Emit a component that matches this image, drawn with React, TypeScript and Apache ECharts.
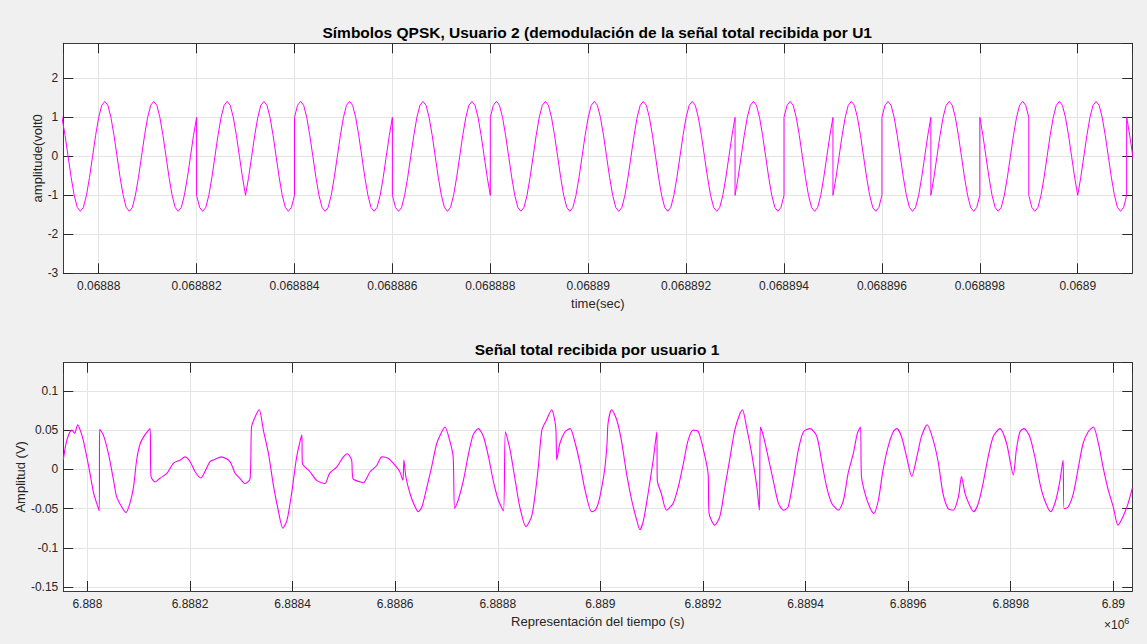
import React, { useEffect, useRef } from 'react';
import * as echarts from 'echarts';

// ---------- Top subplot: demodulated QPSK symbols (time in microseconds) ----------
const topXMinUs = 68879.277;
const topXMaxUs = 68901.115;
const topSymbolStartUs = 68879; // first symbol boundary (one symbol per microsecond)
// phase of each symbol, named by where its peak sits inside the symbol (1/8, 3/8, 5/8, 7/8)
const topSymbolPhases = [1, 1, 1, 5, 3, 1, 1, 5, 5, 1, 1, 1, 1, 1, 3, 1, 3, 1, 3, 7, 5, 3, 7];
// samples of one symbol every 1/16 microsecond (17 points incl. end)
const phaseShape1 = [1, 1.31, 1.41, 1.31, 1, 0.54, 0, -0.54, -1, -1.31, -1.41, -1.31, -1, -0.54, 0, 0.54, 1];
const phaseShape3 = [-1, -0.54, 0, 0.54, 1, 1.31, 1.41, 1.31, 1, 0.54, 0, -0.54, -1, -1.31, -1.41, -1.31, -1];
const phaseShape5 = [-1, -1.31, -1.41, -1.31, -1, -0.54, 0, 0.54, 1, 1.31, 1.41, 1.31, 1, 0.54, 0, -0.54, -1];
const phaseShape7 = [1, 0.54, 0, -0.54, -1, -1.31, -1.41, -1.31, -1, -0.54, 0, 0.54, 1, 1.31, 1.41, 1.31, 1];
const topYMin = -3;
const topYMax = 2.9;

// ---------- Bottom subplot: total received signal ----------
const bottomTimeBase = 6888000;
const bottomXMin = 6887953;
const bottomXMax = 6890037;
const bottomYMin = -0.155;
const bottomYMax = 0.136;
const bottomTimeOffset = [
  -47, -42, -36, -30, -25, -19, -14, -8, 0, 5, 12, 18, 23, 24, 31, 41, 51, 57, 67, 75,
  83, 90, 96, 103, 112, 122, 124, 132, 142, 155, 168, 181, 190, 200, 210, 221, 229, 239, 249, 261,
  278, 288, 298, 307, 317, 320, 327, 335, 343, 353, 363, 372, 381, 389, 398, 408, 418, 419, 434, 447,
  463, 472, 486, 499, 507, 515, 518, 532, 538, 551, 564, 574, 587, 600, 609, 615, 617, 621, 629, 637,
  645, 652, 662, 671, 681, 691, 697, 707, 713, 716, 723, 733, 743, 752, 762, 772, 782, 791, 801, 811,
  815, 824, 834, 843, 855, 866, 873, 879, 886, 895, 905, 913, 915, 921, 931, 941, 951, 960, 970, 983,
  990, 996, 1003, 1009, 1013, 1015, 1022, 1032, 1041, 1051, 1061, 1071, 1077, 1084, 1093, 1103, 1110, 1111, 1119, 1129,
  1142, 1152, 1162, 1171, 1181, 1191, 1201, 1210, 1212, 1223, 1233, 1243, 1253, 1262, 1272, 1277, 1285, 1295, 1305, 1310,
  1312, 1318, 1327, 1337, 1347, 1357, 1366, 1376, 1386, 1396, 1409, 1422, 1431, 1441, 1451, 1464, 1474, 1483, 1493, 1501,
  1507, 1509, 1516, 1525, 1533, 1542, 1551, 1561, 1571, 1578, 1587, 1597, 1607, 1617, 1626, 1637, 1649, 1659, 1668, 1678,
  1688, 1698, 1704, 1711, 1720, 1728, 1737, 1746, 1756, 1766, 1779, 1792, 1805, 1811, 1818, 1826, 1837, 1847, 1857, 1866,
  1878, 1888, 1896, 1902, 1904, 1912, 1922, 1932, 1941, 1951, 1961, 1971, 1980, 1990, 2000, 2009, 2019, 2029, 2037,
];
const bottomAmplitude = [
  0.012, 0.032, 0.045, 0.05, 0.046, 0.057, 0.05, 0.037, 0.012, -0.005, -0.03, -0.043, -0.053, 0.051, 0.044, 0.02, -0.014, -0.035, -0.048, -0.055,
  -0.043, -0.022, 0.012, 0.033, 0.044, 0.052, -0.009, -0.016, -0.011, -0.005, 0.008, 0.012, 0.016, 0.01, -0.003, -0.011, -0.003, 0.01, 0.013, 0.016,
  0.01, -0.005, -0.012, -0.018, -0.012, 0.054, 0.067, 0.076, 0.05, 0.02, -0.022, -0.052, -0.075, -0.065, -0.031, 0.016, 0.044, 0.008, -0.003, -0.014,
  -0.018, -0.005, 0.003, 0.016, 0.02, 0.012, -0.012, -0.016, -0.017, -0.003, 0.005, 0.016, 0.014, 0.005, -0.003, -0.014, 0.012, -0.01, -0.031, -0.045,
  -0.054, -0.048, -0.022, 0.003, 0.033, 0.048, 0.054, 0.035, 0.016, -0.05, -0.039, -0.014, 0.02, 0.044, 0.052, 0.042, 0.016, -0.014, -0.039, -0.053,
  0.048, 0.025, -0.014, -0.048, -0.073, -0.06, -0.031, 0.003, 0.05, 0.063, 0.076, 0.054, 0.012, 0.033, 0.048, 0.052, 0.033, 0.008, -0.026, -0.054,
  -0.052, -0.043, -0.022, 0.003, 0.033, 0.059, 0.076, 0.063, 0.037, -0.005, -0.039, -0.065, -0.077, -0.065, -0.031, 0.012, 0.048, -0.014, -0.031, -0.052,
  -0.043, -0.022, 0.008, 0.037, 0.05, 0.048, 0.025, -0.005, -0.056, -0.071, -0.06, -0.022, 0.016, 0.05, 0.071, 0.076, 0.054, 0.02, -0.022, -0.052,
  0.054, 0.042, 0.016, -0.014, -0.043, -0.052, -0.048, -0.014, 0.025, 0.048, 0.052, 0.042, 0.012, -0.022, -0.043, -0.052, -0.039, -0.005, 0.02, 0.046,
  0.054, -0.009, -0.031, -0.048, -0.056, -0.039, -0.001, 0.029, 0.048, 0.052, 0.042, 0.016, -0.009, 0.016, 0.042, 0.057, 0.037, 0.008, -0.031, -0.05,
  -0.052, -0.035, -0.009, -0.031, -0.046, -0.054, -0.043, -0.018, 0.016, 0.042, 0.052, 0.033, -0.007, 0.025, 0.048, 0.052, 0.042, 0.016, -0.018, -0.039,
  -0.054, -0.039, -0.014, 0.012, -0.05, -0.048, -0.031, 0.003, 0.033, 0.048, 0.054, 0.033, 0.003, -0.026, -0.048, -0.071, -0.06, -0.043, -0.024,
];

const topTitle = 'Símbolos QPSK, Usuario 2 (demodulación de la señal total recibida por U1';
const bottomTitle = 'Señal total recibida por usuario 1';
const topXName = 'time(sec)';
const topYName = 'amplitude(volt0';
const bottomXName = 'Representación del tiempo (s)';
const bottomYName = 'Amplitud (V)';

const FONT = '"Liberation Sans", Arial, Helvetica, sans-serif';
const TEXT = '#262626';
const GRIDLINE = '#e4e4e4';
const LINE = '#ff00ff';

const shapes: Record<number, number[]> = { 1: phaseShape1, 3: phaseShape3, 5: phaseShape5, 7: phaseShape7 };

function buildTopData(): [number, number][] {
  const out: [number, number][] = [];
  topSymbolPhases.forEach((p, k) => {
    const shape = shapes[p];
    const start = topSymbolStartUs + k;
    shape.forEach((v, j) => out.push([start + j / (shape.length - 1), v]));
  });
  return out;
}

function buildBottomData(): [number, number][] {
  return bottomTimeOffset.map((t, i) => [bottomTimeBase + t, bottomAmplitude[i]]);
}

const fmt = (v: number, scale: number) => String(Number((v / scale).toPrecision(6)));

export default function App() {
  const ref = useRef<HTMLDivElement>(null);
  useEffect(() => {
    if (!ref.current) return;
    const chart = echarts.init(ref.current, undefined, { renderer: 'svg' });
    const G = [
      { left: 63.3, top: 43.3, width: 1069, height: 230 },
      { left: 63.3, top: 362.7, width: 1069, height: 228.3 },
    ];
    const axLine = { show: true, onZero: false, lineStyle: { color: '#3a3a3a', width: 1 } };
    const tick = { show: true, inside: true, length: 10, lineStyle: { color: '#2a2a2a', width: 1 } };
    const label = { color: TEXT, fontSize: 12, fontFamily: FONT };
    const titleStyle = { fontSize: 15.5, fontWeight: 'bold', color: '#000', fontFamily: FONT };
    const split = { show: true, lineStyle: { color: GRIDLINE, width: 1 } };
    const option: any = {
      animation: false,
      backgroundColor: '#f0f0f0',
      title: [
        { text: topTitle, left: 592.2, top: 19, textAlign: 'center', textStyle: titleStyle },
        { text: bottomTitle, left: 592, top: 336.5, textAlign: 'center', textStyle: titleStyle },
      ],
      grid: G.map((g) => ({ ...g, show: true, backgroundColor: '#ffffff', borderWidth: 0, containLabel: false })),
      xAxis: [
        {
          gridIndex: 0, type: 'value', position: 'bottom', min: topXMinUs, max: topXMaxUs, splitNumber: 11,
          axisLine: axLine, axisTick: tick,
          axisLabel: { ...label, margin: 7, showMinLabel: false, showMaxLabel: false, formatter: (v: number) => fmt(v, 1e6) },
          splitLine: split,
        },
        {
          gridIndex: 0, type: 'value', position: 'top', min: topXMinUs, max: topXMaxUs, splitNumber: 11,
          axisLine: axLine, axisTick: tick, axisLabel: { show: false }, splitLine: { show: false },
        },
        {
          gridIndex: 1, type: 'value', position: 'bottom', min: bottomXMin, max: bottomXMax, splitNumber: 10,
          axisLine: axLine, axisTick: tick,
          axisLabel: { ...label, margin: 7, showMinLabel: false, showMaxLabel: false, formatter: (v: number) => fmt(v, 1e6) },
          splitLine: split,
        },
        {
          gridIndex: 1, type: 'value', position: 'top', min: bottomXMin, max: bottomXMax, splitNumber: 10,
          axisLine: axLine, axisTick: tick, axisLabel: { show: false }, splitLine: { show: false },
        },
      ],
      yAxis: [
        {
          gridIndex: 0, type: 'value', position: 'left', min: topYMin, max: topYMax, interval: 1,
          axisLine: axLine, axisTick: tick,
          axisLabel: { ...label, margin: 5, showMinLabel: true, showMaxLabel: false },
          splitLine: split,
        },
        {
          gridIndex: 0, type: 'value', position: 'right', min: topYMin, max: topYMax, interval: 1,
          axisLine: axLine, axisTick: tick, axisLabel: { show: false }, splitLine: { show: false },
        },
        {
          gridIndex: 1, type: 'value', position: 'left', min: bottomYMin, max: bottomYMax, splitNumber: 6,
          axisLine: axLine, axisTick: tick,
          axisLabel: { ...label, margin: 5, showMinLabel: false, showMaxLabel: false, formatter: (v: number) => String(Number(v.toPrecision(4))) },
          splitLine: split,
        },
        {
          gridIndex: 1, type: 'value', position: 'right', min: bottomYMin, max: bottomYMax, splitNumber: 6,
          axisLine: axLine, axisTick: tick, axisLabel: { show: false }, splitLine: { show: false },
        },
      ],
      series: [
        {
          type: 'line', xAxisIndex: 0, yAxisIndex: 0, data: buildTopData(), showSymbol: false, silent: true,
          lineStyle: { color: LINE, width: 1 }, clip: true,
        },
        {
          type: 'line', xAxisIndex: 2, yAxisIndex: 2, data: buildBottomData(), showSymbol: false, silent: true,
          smooth: 0.25, lineStyle: { color: LINE, width: 1.1 }, clip: true,
        },
      ],
      graphic: [
        {
          type: 'text', x: 597.8, y: 303.5,
          style: { text: topXName, fill: TEXT, font: `13px ${FONT}`, textAlign: 'center', textVerticalAlign: 'middle' },
        },
        {
          type: 'text', x: 37.5, y: 158.3, rotation: Math.PI / 2,
          style: { text: topYName, fill: TEXT, font: `13px ${FONT}`, textAlign: 'center', textVerticalAlign: 'middle' },
        },
        {
          type: 'text', x: 597.8, y: 621.7,
          style: { text: bottomXName, fill: TEXT, font: `13px ${FONT}`, textAlign: 'center', textVerticalAlign: 'middle' },
        },
        {
          type: 'text', x: 20.7, y: 476.8, rotation: Math.PI / 2,
          style: { text: bottomYName, fill: TEXT, font: `13px ${FONT}`, textAlign: 'center', textVerticalAlign: 'middle' },
        },
        {
          type: 'text', x: 1104, y: 625,
          style: {
            text: '{a|×10}{b|6}', fill: TEXT, textVerticalAlign: 'middle',
            rich: {
              a: { fontSize: 12, fontFamily: FONT, fill: TEXT, color: TEXT },
              b: { fontSize: 9, fontFamily: FONT, fill: TEXT, color: TEXT, padding: [0, 0, 8, 0] },
            },
          },
        },
      ],
    };
    chart.setOption(option);
    return () => chart.dispose();
  }, []);
  return <div ref={ref} style={{ position: 'absolute', left: 0, top: 0, width: 1147, height: 644 }} />;
}
